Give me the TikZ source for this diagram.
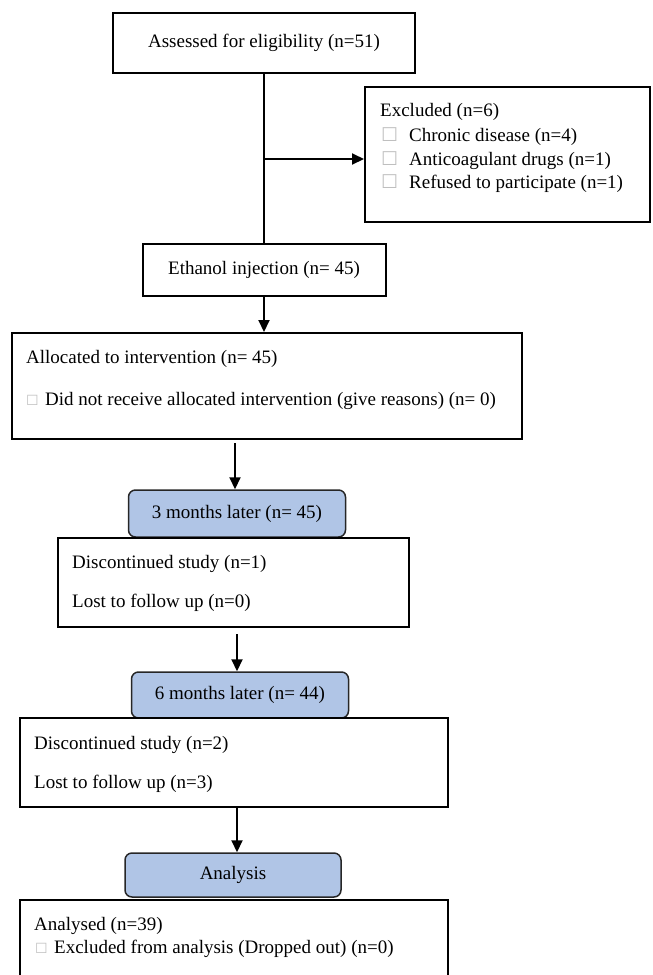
\documentclass[tikz,border=0pt]{standalone}
\usepackage{fontspec}
\setmainfont{Liberation Serif}
\newfontfamily\symfont{DejaVu Sans}
\usetikzlibrary{arrows.meta,calc}
\definecolor{Stage}{HTML}{B0C5E6}
\newcommand{\cbox}[1]{{\symfont\fontsize{#1}{#1}\selectfont\color{black!25}☐}}

\begin{document}
\begin{tikzpicture}[x=1pt,y=-1pt,
	font=\fontsize{19}{23}\selectfont,
	box/.style={draw,line width=2pt,inner sep=0pt},
	stage/.style={draw=black!85,line width=1.5pt,rounded corners=7pt,
		fill=Stage,inner sep=0pt,minimum width=217pt},
	txt/.style={anchor=west,inner sep=0pt},
	arr/.style={line width=2pt,-{Triangle[length=12pt,width=11pt]}}]
\useasboundingbox (0,0) rectangle (653,975);
%% Enrolment
\node[box,minimum width=302pt,minimum height=60pt] (assess) at (264,43)
	{Assessed for eligibility (n=51)};
\node[box,minimum width=285pt,minimum height=135pt] (excl) at (507.5,154.5) {};
\node[txt] (exclhead) at ($(excl.north west)+(16,26)$) {Excluded (n=6)};
\foreach \t/\dy [count=\i] in {Chronic disease (n=4)/51,
	Anticoagulant drugs (n=1)/75, Refused to participate (n=1)/98}
	{\node[txt] (exclitem\i) at ($(excl.north west)+(17,\dy)$)
		{\makebox[28pt][l]{\cbox{19}}\t};}
\node[box,minimum width=243pt,minimum height=52pt] (eth) at (264,270)
	{Ethanol injection (n= 45)};
%
\coordinate (split) at (264,159);
\draw[line width=2pt] (assess.south) -- (assess.south |- eth.north);
\draw[arr] (split) -- (split -| excl.west);
%% Allocation
\node[box,minimum width=510pt,minimum height=106pt] (alloc) at (267,386) {};
\node[txt] (allochead) at ($(alloc.north west)+(15,27)$) {Allocated to intervention (n= 45)};
\node[txt] (allocitem) at ($(alloc.north west)+(15,69)$)
	{\makebox[19pt][l]{\cbox{14}}Did not receive allocated intervention (give reasons) (n= 0)};
\draw[arr] (eth.south) -- (eth.south |- alloc.north);
%% Follow up 3 months
\node[stage,minimum height=47pt] (mthree) at (237,513.5) {3 months later (n= 45)};
\node[box,minimum width=351pt,minimum height=89pt] (discone) at (233.5,582.5) {};
\node[txt] (disconea) at ($(discone.north west)+(15,27)$) {Discontinued study (n=1)};
\node[txt] (disconeb) at ($(discone.north west)+(15,66)$) {Lost to follow up (n=0)};
\draw[arr] ([yshift=-3pt]alloc.south -| 235,0) -- (mthree.north -| 235,0);
%% Follow up 6 months
\node[stage,minimum height=46pt] (msix) at (240,695) {6 months later (n= 44)};
\node[box,minimum width=428pt,minimum height=89pt] (disctwo) at (234,762.5) {};
\node[txt] (disctwoa) at ($(disctwo.north west)+(15,28)$) {Discontinued study (n=2)};
\node[txt] (disctwob) at ($(disctwo.north west)+(15,67)$) {Lost to follow up (n=3)};
\draw[arr] ([yshift=-6pt]discone.south -| 237,0) -- (msix.north -| 237,0);
%% Analysis
\node[stage,minimum width=216pt,minimum height=44pt] (ana) at (233,875) {Analysis};
\node[box,minimum width=428pt,minimum height=90pt] (final) at (234,945) {};
\node[txt] (finala) at ($(final.north west)+(15,27)$) {Analysed (n=39)};
\node[txt] (finalb) at ($(final.north west)+(16,50)$)
	{\makebox[19pt][l]{\cbox{14}}Excluded from analysis (Dropped out) (n=0)};
\draw[arr] (disctwo.south -| 237,0) -- (ana.north -| 237,0);
\end{tikzpicture}
\end{document}
